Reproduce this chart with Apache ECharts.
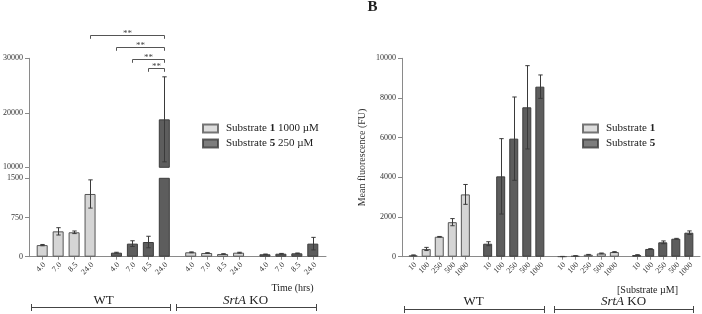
<!DOCTYPE html>
<html><head><meta charset="utf-8">
<script src="https://cdn.jsdelivr.net/npm/echarts@6/dist/echarts.min.js"></script>
<style>html,body{margin:0;padding:0;background:#fff}#c{width:702px;height:314px}</style>
</head><body><div id="c"></div>
<script>
// ---------- DATA (left panel: time course) ----------
const timeLabels = ['4.0', '7.0', '8.5', '24.0'];
const leftGroups = ['WT S1', 'WT S5', 'KO S1', 'KO S5'];
const wtS1Mean = [222, 485, 467, 1200];
const wtS1Err  = [12, 70, 25, 270];
const wtS5Mean = [77, 250, 281, 18800];
const wtS5Err  = [8, 55, 110, 7800];
const koS1Mean = [84, 71, 52, 77];
const koS1Err  = [8, 6, 5, 8];
const koS5Mean = [46, 57, 65, 250];
const koS5Err  = [5, 6, 6, 120];
const leftLegendNames = ['Substrate 1 1000 \u00B5M', 'Substrate 5 250 \u00B5M'];
// significance brackets: [groupA, timeA, groupB, timeB, level]
const sigBrackets = [[0, 3, 1, 3, 34300], [1, 0, 1, 3, 32000], [1, 1, 1, 3, 29800], [1, 2, 1, 3, 28200]];
const sigLabels = ['**', '**', '**', '**'];

// ---------- DATA (right panel: dose response) ----------
const concLabels = ['10', '100', '250', '500', '1000'];
const rightGroups = ['WT S1', 'WT S5', 'KO S1', 'KO S5'];
const rWtS1Mean = [70, 390, 1005, 1740, 3140];
const rWtS1Err  = [20, 80, 15, 180, 500];
const rWtS5Mean = [655, 4050, 5950, 7530, 8570];
const rWtS5Err  = [100, 1900, 2100, 2100, 590];
const rKoS1Mean = [10, 40, 100, 165, 235];
const rKoS1Err  = [5, 10, 15, 20, 20];
const rKoS5Mean = [85, 390, 725, 905, 1210];
const rKoS5Err  = [15, 15, 70, 20, 90];
const rightLegendNames = ['Substrate 1', 'Substrate 5'];

// ---------- STYLE ----------
const SERIF = '"Liberation Serif","DejaVu Serif",serif';
const AX = '#8a8a8a', TXT = '#333';
const FILL = ['#d5d5d5', '#5d5d5d'], EDGE = ['#555555', '#3c3c3c'];
const groupSub = [0, 1, 0, 1];
const BRK_LOW = 1500;
const BW_L = 11, GAP_L = 0.45, STEP_L = BW_L * (1 + GAP_L);
const BW_R = 9, GAP_R = 0.45, STEP_R = BW_R * (1 + GAP_R);
const CAP = 2.2;

const Lmean = [wtS1Mean, wtS5Mean, koS1Mean, koS5Mean];
const Lerr  = [wtS1Err, wtS5Err, koS1Err, koS5Err];
const Rmean = [rWtS1Mean, rWtS5Mean, rKoS1Mean, rKoS5Mean];
const Rerr  = [rWtS1Err, rWtS5Err, rKoS1Err, rKoS5Err];

function barItem(v, g) {
  return { value: v, itemStyle: { color: FILL[groupSub[g]], borderColor: EDGE[groupSub[g]], borderWidth: 1 } };
}
function yAxisCfg(gridIndex, min, max, interval, extra) {
  return Object.assign({
    type: 'value', gridIndex, min, max, interval,
    splitLine: { show: false },
    axisLine: { show: true, lineStyle: { color: AX, width: 1 } },
    axisTick: { show: true, length: 4, lineStyle: { color: AX } },
    axisLabel: { fontFamily: SERIF, fontSize: 8, color: TXT, margin: 6, formatter: v => String(v) }
  }, extra || {});
}
function xAxisCfg(gridIndex, data, show) {
  return { type: 'category', gridIndex, data, show,
    axisLine: { show: true, lineStyle: { color: AX } },
    axisTick: { show: false }, axisLabel: { show: false }, splitLine: { show: false } };
}
const lineSt = () => ({ stroke: '#3a3a3a', lineWidth: 1 });
function errRenderer(step, n) {
  return (params, api) => {
    const g = api.value(0), v = api.value(1), e = api.value(2), t = api.value(3);
    const x = Math.round(api.coord([g, v])[0] + (t - (n - 1) / 2) * step) + 0.5;
    const yHi = api.coord([g, v + e])[1], yLo = api.coord([g, Math.max(v - e, 0)])[1];
    return { type: 'group', children: [
      { type: 'line', shape: { x1: x, y1: yHi, x2: x, y2: yLo }, style: lineSt() },
      { type: 'line', shape: { x1: x - CAP, y1: yHi, x2: x + CAP, y2: yHi }, style: lineSt() },
      { type: 'line', shape: { x1: x - CAP, y1: yLo, x2: x + CAP, y2: yLo }, style: lineSt() }
    ] };
  };
}
function tickRenderer(step, n, labels) {
  return (params, api) => {
    const g = api.value(0), t = api.value(1);
    const p = api.coord([g, 0]);
    const x = Math.round(p[0] + (t - (n - 1) / 2) * step) + 0.5;
    return { type: 'group', children: [
      { type: 'line', shape: { x1: x, y1: p[1], x2: x, y2: p[1] + 3 }, style: { stroke: AX, lineWidth: 1 } },
      { type: 'text', x: x + 2, y: p[1] + 7, rotation: Math.PI / 4,
        style: { text: labels[t], fill: TXT, font: '8px ' + SERIF,
          textAlign: 'right', textVerticalAlign: 'middle', align: 'right', verticalAlign: 'middle' } }
    ] };
  };
}
function bracketRenderer(params, api) {
  const c1 = api.value(0), t1 = api.value(1), c2 = api.value(2), t2 = api.value(3), lvl = api.value(4);
  const x1 = Math.round(api.coord([c1, lvl])[0] + (t1 - 1.5) * STEP_L) + 0.5;
  const x2 = Math.round(api.coord([c2, lvl])[0] + (t2 - 1.5) * STEP_L) + 0.5;
  const y = Math.round(api.coord([c1, lvl])[1]) + 0.5;
  return { type: 'group', children: [
    { type: 'polyline', shape: { points: [[x1, y + 3.3], [x1, y], [x2, y], [x2, y + 3.3]] },
      style: { stroke: '#555', lineWidth: 1, fill: null } },
    { type: 'text', x: (x1 + x2) / 2, y: y + 3,
      style: { text: sigLabels[params.dataIndex], fill: '#444', font: '9px ' + SERIF,
        textAlign: 'center', textVerticalAlign: 'bottom', align: 'center', verticalAlign: 'bottom' } }
  ] };
}
const boldNum = name => name.replace(/Substrate (\d)/, 'Substrate {b|$1}');

// ---------- SERIES ----------
const series = [];
timeLabels.forEach((lab, t) => {
  series.push({ type: 'bar', name: 'L' + lab, xAxisIndex: 0, yAxisIndex: 0, barWidth: BW_L, barGap: (GAP_L * 100) + '%',
    data: Lmean.map((m, g) => barItem(m[t], g)) });
  series.push({ type: 'bar', name: 'LU' + lab, xAxisIndex: 1, yAxisIndex: 1, barWidth: BW_L, barGap: (GAP_L * 100) + '%',
    data: Lmean.map((m, g) => m[t] > BRK_LOW ? barItem(m[t], g) : '-') });
});
const errLow = [], errHigh = [], ticksL = [];
Lmean.forEach((m, g) => m.forEach((v, t) => {
  (v > BRK_LOW ? errHigh : errLow).push([g, v, Lerr[g][t], t]);
  ticksL.push([g, t]);
}));
series.push({ type: 'custom', xAxisIndex: 0, yAxisIndex: 0, renderItem: errRenderer(STEP_L, 4), data: errLow, encode: { x: 0, y: 1 }, z: 5 });
series.push({ type: 'custom', xAxisIndex: 1, yAxisIndex: 1, renderItem: errRenderer(STEP_L, 4), data: errHigh, encode: { x: 0, y: 1 }, z: 5 });
series.push({ type: 'custom', xAxisIndex: 0, yAxisIndex: 0, renderItem: tickRenderer(STEP_L, 4, timeLabels), data: ticksL, encode: { x: 0, y: 1 }, clip: false });
series.push({ type: 'custom', xAxisIndex: 1, yAxisIndex: 1, renderItem: bracketRenderer, data: sigBrackets, encode: { x: 0, y: 4 }, clip: false });
leftLegendNames.forEach((n, i) => series.push({ type: 'scatter', name: n, xAxisIndex: 0, yAxisIndex: 0, data: [],
  itemStyle: { color: FILL[i], borderColor: EDGE[i], borderWidth: 1 } }));

concLabels.forEach((lab, t) => {
  series.push({ type: 'bar', name: 'R' + lab, xAxisIndex: 2, yAxisIndex: 2, barWidth: BW_R, barGap: (GAP_R * 100) + '%',
    data: Rmean.map((m, g) => barItem(m[t], g)) });
});
const errR = [], ticksR = [];
Rmean.forEach((m, g) => m.forEach((v, t) => { errR.push([g, v, Rerr[g][t], t]); ticksR.push([g, t]); }));
series.push({ type: 'custom', xAxisIndex: 2, yAxisIndex: 2, renderItem: errRenderer(STEP_R, 5), data: errR, encode: { x: 0, y: 1 }, z: 5 });
series.push({ type: 'custom', xAxisIndex: 2, yAxisIndex: 2, renderItem: tickRenderer(STEP_R, 5, concLabels), data: ticksR, encode: { x: 0, y: 1 }, clip: false });
rightLegendNames.forEach((n, i) => series.push({ type: 'scatter', name: n, xAxisIndex: 2, yAxisIndex: 2, data: [],
  itemStyle: { color: FILL[i], borderColor: EDGE[i], borderWidth: 1 } }));

const legendCommon = { orient: 'vertical', icon: 'rect', itemWidth: 15, itemHeight: 8, itemGap: 4, selectedMode: false,
  textStyle: { fontFamily: SERIF, fontSize: 11, color: '#222', padding: [0, 0, 0, 3],
    rich: { b: { fontFamily: SERIF, fontSize: 11, fontWeight: 'bold', color: '#222' } } },
  formatter: boldNum };

function gText(x, y, text, size, extra) {
  return { type: 'text', x, y, silent: true,
    style: Object.assign({ text, fill: '#222', font: size + 'px ' + SERIF, fontSize: size, fontFamily: SERIF,
      textAlign: 'center', textVerticalAlign: 'middle', align: 'center', verticalAlign: 'middle',
      rich: { i: { fontStyle: 'italic', fontSize: size, fontFamily: SERIF, fill: '#222' } } }, extra || {}) };
}
function span(x1, x2, y) {
  return { type: 'polyline', silent: true, shape: { points: [[x1, y - 3.5], [x1, y + 3.5], [x1, y], [x2, y], [x2, y - 3.5], [x2, y + 3.5]] },
    style: { stroke: '#444', lineWidth: 1, fill: null } };
}

const option = {
  animation: false,
  backgroundColor: '#fff',
  grid: [
    { left: 29, width: 297, top: 178.3, height: 78.4 },
    { left: 29, width: 297, top: 58.3, height: 109 },
    { left: 402, right: 2, top: 58.3, height: 198.4 }
  ],
  xAxis: [xAxisCfg(0, leftGroups, true), xAxisCfg(1, leftGroups, false), xAxisCfg(2, rightGroups, true)],
  yAxis: [
    yAxisCfg(0, 0, 1500, 750),
    yAxisCfg(1, 10000, 30000, 10000),
    yAxisCfg(2, 0, 10000, 2000, { name: 'Mean fluorescence (FU)', nameLocation: 'middle', nameGap: 35,
      nameTextStyle: { fontFamily: SERIF, fontSize: 10, color: TXT } })
  ],
  legend: [
    Object.assign({ data: leftLegendNames, left: 197, top: 118 }, legendCommon),
    Object.assign({ data: rightLegendNames, left: 577, top: 118 }, legendCommon)
  ],
  series,
  graphic: [
    { type: 'line', silent: true, shape: { x1: 29.5, y1: 167.3, x2: 29.5, y2: 178.3 }, style: { stroke: AX, lineWidth: 1 } },
    gText(292.5, 288, 'Time (hrs)', 10),
    gText(647.5, 290, '[Substrate \u00B5M]', 10),
    span(31.5, 170.5, 307.5), span(176.5, 316.5, 307.5),
    span(404.5, 544.5, 309.5), span(554.5, 693.5, 309.5),
    gText(103.5, 300.5, 'WT', 13),
    gText(245.5, 300.5, '{i|SrtA} KO', 13),
    gText(473.5, 302, 'WT', 13),
    gText(623.5, 302, '{i|SrtA} KO', 13),
    gText(372.5, 7.5, 'B', 15, { fontWeight: 'bold', font: 'bold 15px ' + SERIF })
  ]
};
const chart = echarts.init(document.getElementById('c'), null, { renderer: 'canvas' });
chart.setOption(option);
</script>
</body></html>
